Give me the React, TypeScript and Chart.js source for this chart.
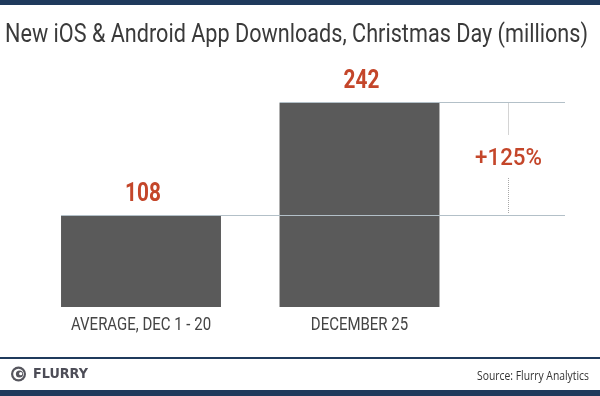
import React, { useEffect, useRef } from "react";
import { Chart, registerables } from "chart.js";

Chart.register(...registerables);

const categories = ["AVERAGE, DEC 1 - 20", "DECEMBER 25"];
const downloads = [108, 242];
const changeLabel = "+125%";
const titleText = "New iOS & Android App Downloads, Christmas Day (millions)";
const sourceText = "Source: Flurry Analytics";
const logoText = "FLURRY";

const FONT = '"Roboto", "Liberation Sans", sans-serif';
const NAVY = "#1f3a5c";
const RED = "#c4462a";

let condFactor = 0.85;

function condText(ctx: any, text: string, x: number, y: number, align: string, factor: number) {
  ctx.save();
  ctx.translate(x, y);
  ctx.scale(factor, 1);
  ctx.textAlign = align;
  ctx.textBaseline = "middle";
  ctx.fillText(text, 0, 0);
  ctx.restore();
}

const decorPlugin = {
  id: "decor",
  beforeDraw(chart: any) {
    const ctx = chart.ctx;
    ctx.save();
    ctx.fillStyle = "#ffffff";
    ctx.fillRect(0, 0, chart.width, chart.height);
    // top band
    ctx.fillStyle = NAVY;
    ctx.fillRect(0, 0, chart.width, 5);
    // title (condensed look)
    ctx.fillStyle = "#3a3a3a";
    ctx.font = `26px ${FONT}`;
    const tw = ctx.measureText(titleText).width;
    condFactor = 583 / tw;
    condText(ctx, titleText, 5, 35, "left", condFactor);
    // footer line
    ctx.fillStyle = NAVY;
    ctx.fillRect(0, 357, chart.width, 2);
    // bottom band
    ctx.fillRect(0, 390, chart.width, 6);
    // logo icon
    const cx = 18.5, cy = 374;
    ctx.fillStyle = "#55555d";
    ctx.beginPath();
    ctx.arc(cx, cy, 7.5, 0, Math.PI * 2);
    ctx.fill();
    ctx.fillStyle = "#ffffff";
    ctx.beginPath();
    ctx.arc(cx, cy, 5.3, 0, Math.PI * 2);
    ctx.fill();
    ctx.fillStyle = "#55555d";
    ctx.beginPath();
    ctx.arc(cx + 1, cy, 3.6, 0, Math.PI * 2);
    ctx.fill();
    ctx.fillStyle = "#ffffff";
    ctx.beginPath();
    ctx.arc(cx + 2.2, cy - 0.3, 1.6, 0, Math.PI * 2);
    ctx.fill();
    ctx.fillStyle = "#4d4d57";
    ctx.font = `900 14px "DejaVu Sans", sans-serif`;
    const lw = ctx.measureText(logoText).width;
    condText(ctx, logoText, 33, 374.5, "left", 55 / lw);
    // source
    ctx.fillStyle = "#333333";
    ctx.font = `12.5px "Open Sans", sans-serif`;
    const sw = ctx.measureText(sourceText).width;
    condText(ctx, sourceText, 589, 376, "right", 112 / sw);
    ctx.restore();
  },
  afterDatasetsDraw(chart: any) {
    const ctx = chart.ctx;
    const meta = chart.getDatasetMeta(0);
    const yScale = chart.scales.y;
    const xScale = chart.scales.x;
    ctx.save();
    const lineRight = 565;
    const bars = meta.data;
    // reference lines
    ctx.strokeStyle = "#b3c0c8";
    ctx.lineWidth = 1;
    const yLow = Math.round(yScale.getPixelForValue(downloads[0])) - 0.5;
    const yHigh = Math.round(yScale.getPixelForValue(downloads[1])) - 0.5;
    const left0 = bars[0].x - bars[0].width / 2;
    const left1 = bars[1].x - bars[1].width / 2;
    ctx.beginPath();
    ctx.moveTo(left0, yLow);
    ctx.lineTo(lineRight, yLow);
    ctx.moveTo(left1, yHigh);
    ctx.lineTo(lineRight, yHigh);
    ctx.stroke();
    // dotted vertical
    const dx = 508.5;
    const midY = (yLow + yHigh) / 2;
    ctx.strokeStyle = "#a8a8a8";
    ctx.setLineDash([1, 1]);
    ctx.beginPath();
    ctx.moveTo(dx, yHigh + 1);
    ctx.lineTo(dx, midY - 24);
    ctx.moveTo(dx, midY + 19);
    ctx.lineTo(dx, yLow - 2);
    ctx.stroke();
    ctx.setLineDash([]);
    // change label
    ctx.fillStyle = RED;
    ctx.font = `500 23.5px ${FONT}`;
    condText(ctx, changeLabel, dx, midY + 0.5, "center", 0.95);
    // value labels
    ctx.font = `bold 25px ${FONT}`;
    bars.forEach((b: any, i: number) => {
      condText(ctx, String(downloads[i]), b.x + 2, b.y - 21, "center", condFactor);
    });
    // category labels
    ctx.fillStyle = "#444444";
    ctx.font = `18px ${FONT}`;
    categories.forEach((c, i) => {
      condText(ctx, c, xScale.getPixelForValue(i), 325.5, "center", condFactor);
    });
    ctx.restore();
  },
};

export default function App() {
  const ref = useRef<HTMLCanvasElement>(null);
  useEffect(() => {
    if (!ref.current) return;
    const chart = new Chart(ref.current, {
      type: "bar",
      data: {
        labels: categories,
        datasets: [
          {
            data: downloads,
            backgroundColor: "#5a5a5a",
            borderWidth: 0,
            categoryPercentage: 1,
            barPercentage: 0.732,
          },
        ],
      },
      options: {
        animation: false,
        responsive: false,
        layout: { padding: { left: 31.75, right: 131.25, top: 103, bottom: 89 } },
        plugins: { legend: { display: false }, tooltip: { enabled: false }, title: { display: false } },
        scales: {
          x: { display: false },
          y: { display: false, min: 0, max: 242 },
        },
      },
      plugins: [decorPlugin],
    });
    return () => chart.destroy();
  }, []);
  return (
    <div style={{ position: "fixed", left: 0, top: 0, width: 600, height: 396 }}>
      <canvas ref={ref} width={600} height={396} style={{ display: "block" }} />
    </div>
  );
}
